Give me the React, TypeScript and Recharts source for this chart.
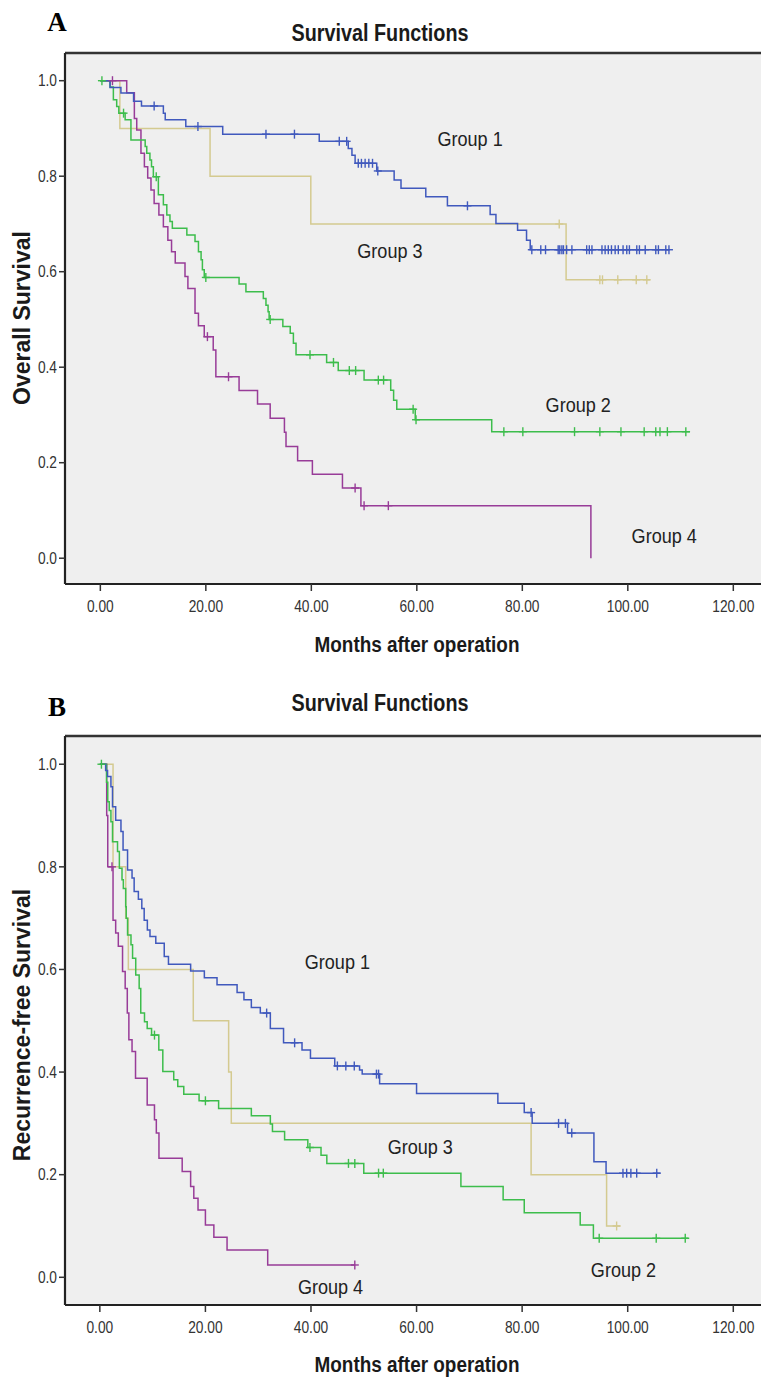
import React from 'react';
import { ComposedChart, Line, Scatter, XAxis, YAxis, CartesianGrid, ReferenceDot, ReferenceLine } from 'recharts';

// ---------- shared ----------
const xTicks = [0, 20, 40, 60, 80, 100, 120];
const yTicks = [0, 0.2, 0.4, 0.6, 0.8, 1.0];
const groupNames = ['Group 1', 'Group 2', 'Group 3', 'Group 4'];
const groupColors = ['#4059bd', '#3dbd4c', '#d4ca90', '#983c98'];

// ---------- Panel A : Overall survival ----------
const a1Time = [0, 1.84, 3.9, 6.3, 7.8, 11.95, 12.3, 16.2, 23.2, 41.5, 47.0, 47.7, 48.3, 52.4, 55.7, 57.0, 61.7, 65.8, 73.9, 75.0, 79.1, 80.8, 81.5];
const a1Surv = [1, 0.986, 0.974, 0.957, 0.947, 0.932, 0.918, 0.904, 0.888, 0.873, 0.858, 0.844, 0.827, 0.811, 0.792, 0.775, 0.757, 0.738, 0.72, 0.701, 0.687, 0.666, 0.646];
const a1End = 107.8;
const a1Cens = [10.2, 18.5, 31.4, 36.8, 45.3, 46.7, 48.9, 49.5, 50.2, 50.9, 51.6, 52.6, 69.6, 81.8, 83.5, 84.4, 86.8, 87.1, 87.5, 87.8, 88.4, 89.4, 92.2, 92.7, 93.2, 95.1, 95.7, 96.3, 96.9, 97.6, 98.2, 99.1, 99.8, 100.3, 101.7, 102.2, 103.3, 105.3, 105.8, 107.2, 107.8];

const a2Time = [0, 1.84, 2.47, 3.1, 3.5, 4.7, 5.8, 8.5, 8.8, 9.4, 9.7, 10.05, 11.0, 11.95, 12.6, 13.2, 13.65, 16.4, 17.95, 18.6, 19.1, 19.35, 19.7, 26.3, 27.6, 30.9, 31.4, 31.8, 32.0, 34.6, 36.0, 36.6, 37.1, 42.9, 45.1, 50.0, 55.05, 55.6, 56.2, 59.7, 74.2];
const a2Surv = [1, 0.987, 0.96, 0.946, 0.932, 0.918, 0.876, 0.862, 0.848, 0.834, 0.82, 0.799, 0.761, 0.74, 0.719, 0.705, 0.691, 0.677, 0.663, 0.642, 0.625, 0.604, 0.588, 0.574, 0.558, 0.544, 0.53, 0.516, 0.5, 0.485, 0.471, 0.45, 0.426, 0.41, 0.393, 0.373, 0.352, 0.331, 0.312, 0.29, 0.265];
const a2End = 111.8;
const a2Cens = [0.3, 4.4, 10.6, 20.0, 32.2, 39.75, 44.2, 47.2, 48.4, 52.7, 53.7, 59.3, 59.85, 76.5, 80.1, 89.9, 94.7, 98.7, 103.1, 105.3, 106.1, 107.5, 111.0];

const a3Time = [0, 3.7, 20.8, 39.9, 88.3];
const a3Surv = [1, 0.9, 0.8, 0.7, 0.583];
const a3End = 104.2;
const a3Cens = [87.0, 94.7, 95.2, 98.1, 101.6, 103.6];

const a4Time = [0, 5.0, 6.45, 6.9, 7.7, 8.35, 8.98, 9.6, 10.2, 11.1, 11.95, 12.8, 13.5, 14.2, 16.05, 16.6, 17.95, 18.6, 19.7, 21.4, 21.9, 26.3, 29.8, 32.2, 34.9, 35.2, 37.4, 40.2, 45.9, 49.4, 93.0];
const a4Surv = [1, 0.975, 0.921, 0.897, 0.848, 0.82, 0.796, 0.771, 0.743, 0.719, 0.694, 0.666, 0.642, 0.618, 0.59, 0.565, 0.513, 0.487, 0.464, 0.436, 0.38, 0.351, 0.323, 0.293, 0.264, 0.234, 0.204, 0.176, 0.147, 0.11, 0];
const a4End = 93.0;
const a4Cens = [2.3, 20.3, 24.3, 48.3, 50.0, 54.6];

const aLabelX = [70.1, 90.6, 54.9, 106.9];
const aLabelY = [0.88, 0.323, 0.644, 0.047];

// ---------- Panel B : Recurrence-free survival ----------
const b1Time = [0, 1.1, 1.46, 2.1, 2.4, 3.0, 4.0, 4.4, 5.25, 6.1, 6.5, 7.3, 7.95, 8.4, 9.0, 9.5, 10.6, 12.2, 13.0, 17.2, 19.8, 22.2, 26.0, 27.3, 28.7, 30.4, 32.3, 34.8, 38.3, 39.9, 44.5, 49.2, 49.7, 53.0, 60.0, 75.4, 80.4, 81.9, 88.6, 93.6, 95.9];
const b1Surv = [1, 0.988, 0.976, 0.956, 0.917, 0.891, 0.869, 0.833, 0.794, 0.778, 0.752, 0.737, 0.719, 0.696, 0.677, 0.664, 0.651, 0.625, 0.61, 0.597, 0.584, 0.57, 0.555, 0.541, 0.526, 0.515, 0.485, 0.457, 0.443, 0.427, 0.412, 0.404, 0.396, 0.377, 0.358, 0.339, 0.321, 0.3, 0.281, 0.225, 0.203];
const b1End = 106.2;
const b1Cens = [31.6, 36.9, 45.0, 46.6, 48.2, 52.4, 52.8, 81.7, 86.9, 88.2, 89.4, 99.1, 99.8, 100.6, 101.7, 105.5];

const b2Time = [0, 1.27, 1.5, 1.78, 2.1, 2.4, 3.35, 3.7, 4.2, 4.45, 4.9, 5.0, 5.25, 5.9, 6.2, 6.8, 7.45, 7.75, 8.46, 8.97, 9.8, 11.17, 11.93, 14.0, 14.76, 15.9, 18.8, 22.5, 28.7, 32.3, 32.7, 35.0, 39.4, 41.9, 43.0, 50.0, 68.4, 76.4, 80.4, 91.0, 93.5];
const b2Surv = [1, 0.965, 0.927, 0.91, 0.888, 0.849, 0.83, 0.797, 0.775, 0.758, 0.722, 0.7, 0.667, 0.648, 0.622, 0.589, 0.563, 0.515, 0.498, 0.485, 0.472, 0.443, 0.401, 0.385, 0.372, 0.357, 0.344, 0.329, 0.315, 0.299, 0.284, 0.268, 0.253, 0.238, 0.222, 0.203, 0.177, 0.151, 0.126, 0.102, 0.076];
const b2End = 111.5;
const b2Cens = [0.3, 10.35, 20.0, 39.8, 47.1, 48.3, 52.8, 53.7, 94.6, 105.4, 110.9];

const b3Time = [0, 2.5, 4.9, 5.4, 17.7, 24.4, 24.9, 81.7, 96.0];
const b3Surv = [1, 0.8, 0.7, 0.6, 0.5, 0.4, 0.3, 0.2, 0.1];
const b3End = 98.6;
const b3Cens = [97.9];

const b4Time = [0, 1.3, 1.5, 2.5, 3.0, 3.5, 4.3, 4.8, 5.2, 5.5, 6.1, 6.76, 8.97, 10.35, 10.7, 11.2, 15.6, 17.2, 17.8, 18.6, 20.0, 21.6, 24.1, 31.8];
const b4Surv = [1, 0.9, 0.8, 0.696, 0.671, 0.645, 0.596, 0.563, 0.515, 0.463, 0.44, 0.388, 0.336, 0.307, 0.281, 0.232, 0.206, 0.177, 0.154, 0.131, 0.102, 0.078, 0.053, 0.024];
const b4End = 48.3;
const b4Cens = [2.3, 48.3];

const bLabelX = [45.0, 99.2, 60.7, 43.7];
const bLabelY = [0.615, 0.016, 0.256, -0.018];

// ---------- helpers ----------
type Pt = { t: number; s: number };
function curve(times: number[], surv: number[], end: number): Pt[] {
  const pts = times.map((t, i) => ({ t, s: surv[i] }));
  pts.push({ t: end, s: surv[surv.length - 1] });
  return pts;
}
function stepAt(times: number[], surv: number[], t: number): number {
  let v = surv[0];
  for (let i = 0; i < times.length; i++) if (times[i] <= t) v = surv[i];
  return v;
}
function censors(times: number[], surv: number[], cens: number[]): Pt[] {
  return cens.map((t) => ({ t, s: stepAt(times, surv, t) }));
}

const SQ = 0.86; // horizontal squeeze of the original picture
const FONT = "'Liberation Sans', Arial, Helvetica, sans-serif";

const XTick = (props: any) => {
  const { x, y, payload } = props;
  return (
    <text transform={`translate(${x},${y}) scale(${SQ},1)`} x={0} y={0} dy="0.71em" textAnchor="middle" fontSize={16} fill="#333" fontFamily={FONT}>
      {Number(payload.value).toFixed(2)}
    </text>
  );
};
const YTick = (props: any) => {
  const { x, y, payload } = props;
  return (
    <text transform={`translate(${x},${y}) scale(${SQ},1)`} x={0} y={0} dy="0.355em" textAnchor="end" fontSize={16} fill="#333" fontFamily={FONT}>
      {Number(payload.value).toFixed(1)}
    </text>
  );
};

const Censor = (color: string) => (props: any) => {
  const { cx, cy } = props;
  if (cx == null || cy == null) return null;
  return (
    <g stroke={color} strokeWidth={1.4}>
      <line x1={cx} y1={cy - 4.5} x2={cx} y2={cy + 4.5} />
      <line x1={cx - 4} y1={cy} x2={cx + 4} y2={cy} />
    </g>
  );
};

type Group = { time: number[]; surv: number[]; end: number; cens: number[] };

const drawOrder = [2, 3, 1, 0];

function Panel(props: { groups: Group[]; height: number; top: number; xAxisH: number; yDomain: [number, number]; xDomain: [number, number]; lx: number[]; ly: number[] }) {
  const { groups, height, top, xAxisH, yDomain, xDomain, lx, ly } = props;
  return (
    <ComposedChart width={761} height={height} margin={{ top, right: 0, bottom: 0, left: 5 }}>
      <CartesianGrid fill="#efefef" horizontal={false} vertical={false} />
      <XAxis
        dataKey="t"
        type="number"
        domain={xDomain}
        allowDataOverflow
        ticks={xTicks}
        interval={0}
        height={xAxisH}
        tickSize={7}
        tickMargin={10}
        tick={<XTick />}
        axisLine={{ stroke: '#222', strokeWidth: 2.2 }}
        tickLine={{ stroke: '#333', strokeWidth: 1.5 }}
      />
      <YAxis
        dataKey="s"
        type="number"
        domain={yDomain}
        allowDataOverflow
        ticks={yTicks}
        interval={0}
        width={60}
        tickSize={6}
        tickMargin={2}
        tick={<YTick />}
        axisLine={{ stroke: '#222', strokeWidth: 2.2 }}
        tickLine={{ stroke: '#333', strokeWidth: 1.5 }}
      />
      <ReferenceLine y={yDomain[1]} stroke="#333" strokeWidth={2.4} ifOverflow="visible" />
      {drawOrder.map((gi) => (
        <Line
          key={'l' + gi}
          data={curve(groups[gi].time, groups[gi].surv, groups[gi].end)}
          dataKey="s"
          type="stepAfter"
          stroke={groupColors[gi]}
          strokeWidth={1.5}
          dot={false}
          activeDot={false}
          isAnimationActive={false}
          name={groupNames[gi]}
        />
      ))}
      {drawOrder.map((gi) => (
        <Scatter
          key={'c' + gi}
          data={censors(groups[gi].time, groups[gi].surv, groups[gi].cens)}
          dataKey="s"
          shape={Censor(groupColors[gi])}
          isAnimationActive={false}
        />
      ))}
      {groupNames.map((g, gi) => (
        <ReferenceDot
          key={'g' + gi}
          x={lx[gi]}
          y={ly[gi]}
          r={1}
          fill="none"
          stroke="none"
          ifOverflow="visible"
          label={(p: any) => {
            const vb = p.viewBox || {};
            const cx = (vb.x ?? 0) + (vb.width ?? 0) / 2;
            const cy = (vb.y ?? 0) + (vb.height ?? 0) / 2;
            return (
              <text transform={`translate(${cx},${cy}) scale(${SQ},1)`} x={0} y={0} dy="0.36em" textAnchor="middle" fontSize={21} fill="#222" fontFamily={FONT}>
                {g}
              </text>
            );
          }}
        />
      ))}
    </ComposedChart>
  );
}

const abs = (style: React.CSSProperties): React.CSSProperties => ({ position: 'absolute', whiteSpace: 'nowrap', ...style });

function HText(p: { cx: number; cy: number; size: number; bold?: boolean; serif?: boolean; squeeze?: boolean; children: React.ReactNode }) {
  return (
    <div
      style={abs({
        left: p.cx - 200,
        top: p.cy - 15,
        width: 400,
        height: 30,
        lineHeight: '30px',
        textAlign: 'center',
        fontSize: p.size,
        fontWeight: p.bold ? 'bold' : 'normal',
        fontFamily: p.serif ? "'Liberation Serif', 'Times New Roman', serif" : FONT,
        color: p.serif ? '#000' : '#1a1a1a',
        transform: p.squeeze === false ? undefined : `scaleX(${SQ})`,
      })}
    >
      {p.children}
    </div>
  );
}
function VText(p: { cx: number; cy: number; size: number; children: React.ReactNode }) {
  return (
    <div
      style={abs({
        left: p.cx - 200,
        top: p.cy - 15,
        width: 400,
        height: 30,
        lineHeight: '30px',
        textAlign: 'center',
        fontSize: p.size,
        fontWeight: 'bold',
        fontFamily: FONT,
        color: '#1a1a1a',
        transform: 'rotate(-90deg)',
      })}
    >
      {p.children}
    </div>
  );
}

export default function App() {
  const groupsA: Group[] = [
    { time: a1Time, surv: a1Surv, end: a1End, cens: a1Cens },
    { time: a2Time, surv: a2Surv, end: a2End, cens: a2Cens },
    { time: a3Time, surv: a3Surv, end: a3End, cens: a3Cens },
    { time: a4Time, surv: a4Surv, end: a4End, cens: a4Cens },
  ];
  const groupsB: Group[] = [
    { time: b1Time, surv: b1Surv, end: b1End, cens: b1Cens },
    { time: b2Time, surv: b2Surv, end: b2End, cens: b2Cens },
    { time: b3Time, surv: b3Surv, end: b3End, cens: b3Cens },
    { time: b4Time, surv: b4Surv, end: b4End, cens: b4Cens },
  ];
  return (
    <div style={{ position: 'absolute', left: 0, top: 0, width: 761, height: 1377, background: '#fff', overflow: 'hidden' }}>
      <div style={abs({ left: 0, top: 0 })}>
        <Panel groups={groupsA} height={660} top={53} xAxisH={76} yDomain={[-0.054, 1.058]} xDomain={[-6.7, 125.25]} lx={aLabelX} ly={aLabelY} />
      </div>
      <div style={abs({ left: 0, top: 660 })}>
        <Panel groups={groupsB} height={717} top={76} xAxisH={72} yDomain={[-0.054, 1.055]} xDomain={[-6.6, 125.25]} lx={bLabelX} ly={bLabelY} />
      </div>
      <HText cx={57} cy={22} size={27} bold serif squeeze={false}>A</HText>
      <HText cx={380} cy={33} size={23} bold>Survival Functions</HText>
      <HText cx={417} cy={645} size={22} bold>Months after operation</HText>
      <VText cx={22} cy={318} size={23}>Overall Survival</VText>

      <HText cx={57} cy={707} size={27} bold serif squeeze={false}>B</HText>
      <HText cx={380} cy={703} size={23} bold>Survival Functions</HText>
      <HText cx={417} cy={1365} size={22} bold>Months after operation</HText>
      <VText cx={22} cy={1025} size={23}>Recurrence-free Survival</VText>
    </div>
  );
}
